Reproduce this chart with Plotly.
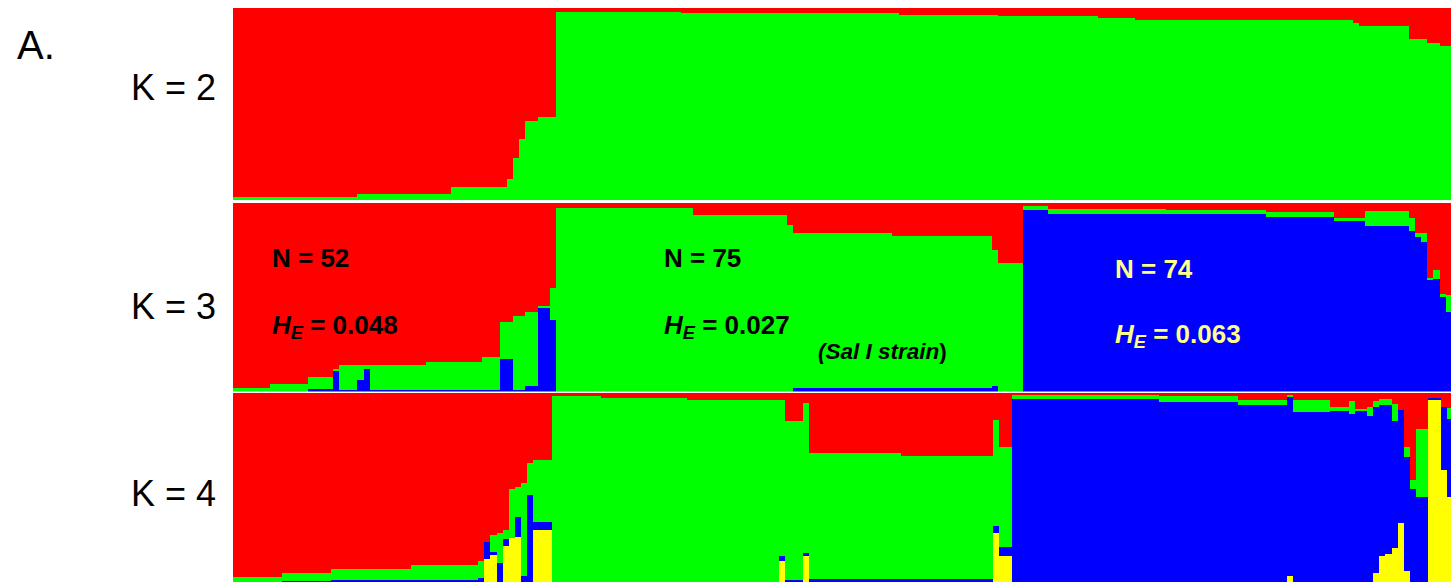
import numpy as np
import plotly.graph_objects as go

# ---------------- DATA (runs of individuals; proportions per cluster) ----------------
# K = 2   (pop1: 52, pop2+pop3 visible part)
k2_counts = [20, 15, 9, 1, 1, 1, 2, 3,
             20, 35, 16, 16, 6, 17, 18, 1, 8, 3, 2, 2]
k2_green = [0.016, 0.03, 0.07, 0.11, 0.22, 0.32, 0.41, 0.43,
            0.98, 0.975, 0.964, 0.96, 0.95, 0.94, 0.935, 0.92, 0.906, 0.84, 0.82, 0.80]
k2_red = [0.984, 0.97, 0.93, 0.89, 0.78, 0.68, 0.59, 0.57,
          0.02, 0.025, 0.036, 0.04, 0.05, 0.06, 0.065, 0.08, 0.094, 0.16, 0.18, 0.20]

# K = 3
k3_counts = [6, 6, 4, 1, 3, 1, 1, 9, 9, 3, 2, 2, 2, 2, 1,
             22, 15, 1, 16, 16, 1, 4,
             4, 19, 16, 11, 5, 7, 1, 1, 1, 1, 1, 1, 1]
k3_blue = [0, 0, 0.015, 0.11, 0.01, 0.06, 0.12, 0.01, 0.01, 0.01, 0.17, 0.01, 0.03, 0.44, 0.38,
           0, 0, 0, 0.02, 0.02, 0.03, 0,
           0.96, 0.94, 0.94, 0.925, 0.90, 0.875, 0.85, 0.82, 0.79, 0.59, 0.595, 0.50, 0.42]
k3_green = [0.02, 0.04, 0.06, 0.01, 0.13, 0.08, 0.02, 0.13, 0.145, 0.175, 0.20, 0.39, 0.39, 0.01, 0.17,
            0.97, 0.935, 0.88, 0.82, 0.805, 0.72, 0.68,
            0.02, 0.025, 0.02, 0.025, 0.02, 0.08, 0.07, 0.02, 0.05, 0.01, 0.05, 0.015, 0.09]
k3_red = [0.98, 0.96, 0.925, 0.88, 0.86, 0.86, 0.86, 0.86, 0.845, 0.815, 0.63, 0.60, 0.58, 0.55, 0.45,
          0.03, 0.065, 0.12, 0.16, 0.175, 0.25, 0.32,
          0.02, 0.035, 0.04, 0.05, 0.08, 0.045, 0.08, 0.16, 0.16, 0.40, 0.355, 0.485, 0.49]

# K = 4
k4_counts = [8, 8, 13, 11, 1, 1, 1, 1, 1, 1, 1, 1, 1, 3,
             8, 14, 15, 1, 3, 1, 15, 15, 1, 2,
             24, 13, 8, 1, 6, 3, 1, 2, 1, 1, 1, 1, 1, 1, 1, 1, 2, 2, 1, 1]
k4_yellow = [0, 0, 0, 0, 0, 0.12, 0.14, 0, 0.19, 0.23, 0.24, 0, 0, 0.275,
             0, 0, 0, 0.11, 0, 0.135, 0, 0, 0.26, 0.135,
             0, 0, 0, 0.03, 0, 0, 0, 0, 0, 0.05, 0.135, 0.15, 0.18, 0.31, 0.06, 0, 0, 0.96, 0.59, 0.45]
k4_blue = [0, 0.005, 0.01, 0.01, 0.02, 0.09, 0.02, 0.10, 0.035, 0, 0.105, 0.03, 0.46, 0.04,
           0, 0, 0, 0.025, 0.01, 0.02, 0.015, 0.015, 0.035, 0.05,
           0.965, 0.95, 0.935, 0.945, 0.895, 0.902, 0.886, 0.902, 0.877, 0.871, 0.80, 0.785,
           0.67, 0.60, 0.60, 0.49, 0.45, 0.01, 0.335, 0.41]
k4_green = [0.025, 0.045, 0.06, 0.08, 0.09, 0.0, 0.09, 0.16, 0.05, 0.26, 0.155, 0.49, 0.17, 0.33,
            0.98, 0.97, 0.96, 0.825, 0.84, 0.79, 0.665, 0.65, 0.56, 0.53,
            0.02, 0.03, 0.025, 0.01, 0.065, 0.02, 0.07, 0.01, 0.045, 0.035, 0.03, 0.03, 0.09, 0.0,
            0.05, 0.05, 0.36, 0.0, 0.0, 0.06]
k4_red = [0.975, 0.95, 0.93, 0.91, 0.89, 0.79, 0.75, 0.74, 0.725, 0.51, 0.50, 0.48, 0.37, 0.355,
          0.02, 0.03, 0.04, 0.04, 0.15, 0.055, 0.32, 0.335, 0.145, 0.285,
          0.015, 0.02, 0.04, 0.015, 0.04, 0.078, 0.044, 0.088, 0.078, 0.044, 0.035, 0.035, 0.06,
          0.09, 0.29, 0.46, 0.19, 0.03, 0.075, 0.08]

panel_labels = ["K = 2", "K = 3", "K = 4"]
pop_n = ["N = 52", "N = 75", "N = 74"]
pop_he = ["0.048", "0.027", "0.063"]

RED, GREEN, BLUE, YELLOW = "#FF0000", "#00FF00", "#0000FF", "#FFFF00"

# ---------------- FIGURE ----------------
W, H = 1451, 582
L = 233
PW = W - L

fig = go.Figure()


def add_panel(counts, comps, colors, idx):
    counts = np.array(counts, dtype=float)
    left = np.concatenate([[0.0], np.cumsum(counts)[:-1]])
    centers = left + counts / 2
    arr = np.array(comps, dtype=float)
    arr = arr / arr.sum(axis=0)
    xa = "x" if idx == 1 else f"x{idx}"
    ya = "y" if idx == 1 else f"y{idx}"
    for vals, col in zip(arr, colors):
        fig.add_trace(go.Bar(x=centers, y=vals, width=counts, marker_color=col,
                             marker_line_width=0, xaxis=xa, yaxis=ya,
                             showlegend=False, hoverinfo="skip"))


add_panel(k2_counts, [k2_green, k2_red], [GREEN, RED], 1)
add_panel(k3_counts, [k3_blue, k3_green, k3_red], [BLUE, GREEN, RED], 2)
add_panel(k4_counts, [k4_yellow, k4_blue, k4_green, k4_red], [YELLOW, BLUE, GREEN, RED], 3)


def ydom(top_px, bot_px):
    return [max(0.0, 1 - bot_px / H), min(1.0, 1 - top_px / H)]


ppi = [6.22, 6.22, 6.13]
doms = [ydom(8, 200), ydom(202.5, 391.5), ydom(392.5, 582)]
axcommon = dict(showgrid=False, zeroline=False, showticklabels=False, ticks="",
                showline=False, fixedrange=True)
layout = dict(width=W, height=H, barmode="stack", bargap=0,
              margin=dict(l=L, r=0, t=0, b=0, pad=0),
              paper_bgcolor="white", plot_bgcolor="white")
for i in range(3):
    xk = "xaxis" if i == 0 else f"xaxis{i+1}"
    yk = "yaxis" if i == 0 else f"yaxis{i+1}"
    layout[xk] = dict(domain=[0, 1], range=[0, PW / ppi[i]],
                      anchor="y" if i == 0 else f"y{i+1}", **axcommon)
    layout[yk] = dict(domain=doms[i], range=[0, 1],
                      anchor="x" if i == 0 else f"x{i+1}", **axcommon)
fig.update_layout(**layout)

FONT = "Liberation Sans, Arial, sans-serif"


def px(xp):  # pixel -> paper x
    return (xp - L) / PW


def py(yp):  # pixel -> paper y
    return 1 - yp / H


ann = []
ann.append(dict(text="A.", x=px(15), y=py(45), xanchor="left", yanchor="middle",
                font=dict(size=40, color="black", family=FONT)))
for lab, yc in zip(panel_labels, [87, 306, 493]):
    ann.append(dict(text=lab, x=px(218), y=py(yc), xanchor="right", yanchor="middle",
                    font=dict(size=36, color="black", family=FONT)))

txt_pos = [(270, 258, 322, "black"), (662, 258, 322, "black"), (1113, 269, 332, "#FFFF8C")]
for (xl, yn, yh, col), n, he in zip(txt_pos, pop_n, pop_he):
    ann.append(dict(text=f"<b>{n}</b>", x=px(xl), y=py(yn), xanchor="left", yanchor="middle",
                    font=dict(size=26, color=col, family=FONT)))
    ann.append(dict(text=f"<b><i>H<sub>E</sub></i> = {he}</b>", x=px(xl), y=py(yh + 4),
                    xanchor="left", yanchor="middle",
                    font=dict(size=26, color=col, family=FONT)))
ann.append(dict(text="<b><i>(Sal I strain</i>)</b>", x=px(816), y=py(351), xanchor="left",
                yanchor="middle", font=dict(size=22.5, color="black", family=FONT)))

for a in ann:
    a.update(xref="paper", yref="paper", showarrow=False)
fig.update_layout(annotations=ann)

# page has a default 8px body margin; remove it so the figure fills the window exactly
fig.write_html("out.html",
               config={"displayModeBar": False, "staticPlot": True},
               post_script="document.body.style.margin='0';"
                           "document.body.style.overflow='hidden';")
